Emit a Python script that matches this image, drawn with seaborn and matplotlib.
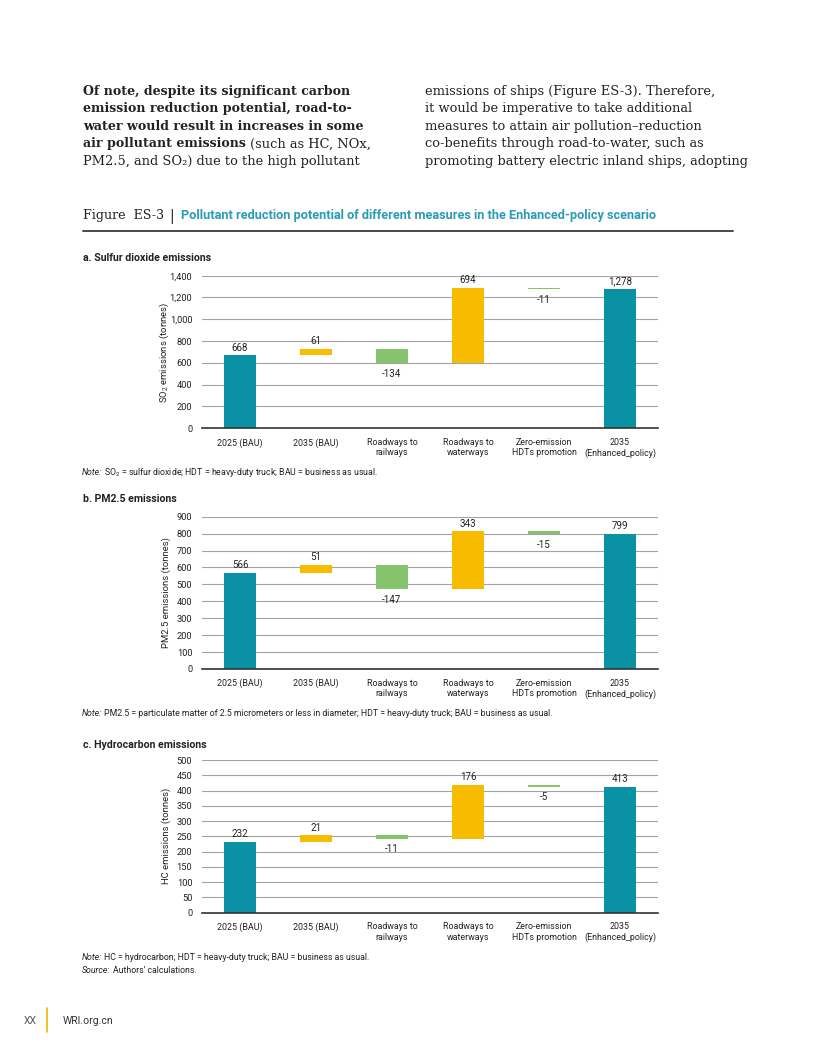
import pandas as pd
import matplotlib
matplotlib.use("Agg")
import matplotlib.pyplot as plt
import seaborn as sns
from matplotlib import font_manager

# Categories and values
categories = ["2025 (BAU)", "2035 (BAU)", "Roadways to\nrailways", "Roadways to\nwaterways",
              "Zero-emission\nHDTs promotion", "2035\n(Enhanced_policy)"]
kinds = ["total", "step", "step", "step", "step", "total"]

so2_values = [668, 61, -134, 694, -11, 1278]
pm25_values = [566, 51, -147, 343, -15, 799]
hc_values = [232, 21, -11, 176, -5, 413]

so2_ticks = [0, 200, 400, 600, 800, 1000, 1200, 1400]
pm25_ticks = [0, 100, 200, 300, 400, 500, 600, 700, 800, 900]
hc_ticks = [0, 50, 100, 150, 200, 250, 300, 350, 400, 450, 500]

TEAL = "#0a92a4"
GOLD = "#f7bc00"
GREEN = "#86c36d"
TITLE_TEAL = "#2a9cb5"
INK = "#222222"

sns.set_style("white")
available = {f.name for f in font_manager.fontManager.ttflist}
NARROW = "Liberation Sans Narrow" if "Liberation Sans Narrow" in available else "Roboto"
SERIF = ["DejaVu Serif"]
plt.rcParams["font.family"] = [NARROW, "DejaVu Sans"]
plt.rcParams["mathtext.fontset"] = "custom"
plt.rcParams["mathtext.rm"] = NARROW
plt.rcParams["mathtext.it"] = NARROW + ":italic"
plt.rcParams["mathtext.bf"] = NARROW + ":bold"

W, H = 816, 1056
fig = plt.figure(figsize=(W / 100, H / 100), dpi=100)
renderer = fig.canvas.get_renderer()


def fx(px):
    return px / W


def fy(py):
    return 1 - py / H


def put(x, y, s, width=None, **kw):
    t = fig.text(fx(x), fy(y), s, va="baseline", **kw)
    if width is not None:
        w = t.get_window_extent(renderer).width
        t.set_fontsize(t.get_fontsize() * width / w)
    return t


# paragraph text
left_lines = [("Of note, despite its significant carbon", ""),
              ("emission reduction potential, road-to-", ""),
              ("water would result in increases in some", ""),
              ("air pollutant emissions", " (such as HC, NOx,"),
              ("", "PM2.5, and SO\u2082) due to the high pollutant")]
right_lines = ["emissions of ships (Figure ES-3). Therefore,",
               "it would be imperative to take additional",
               "measures to attain air pollution\u2013reduction",
               "co-benefits through road-to-water, such as",
               "promoting battery electric inland ships, adopting"]

probe = put(83, 94.5, left_lines[0][0], width=270, family=SERIF, fontsize=10, weight="bold")
bold_size = probe.get_fontsize()
probe.remove()
probe = put(425, 94.5, right_lines[4], width=325, family=SERIF, fontsize=10)
reg_size = probe.get_fontsize()
probe.remove()

for i, (bold, normal) in enumerate(left_lines):
    y = 94.5 + i * 17.6
    x = 83
    if bold:
        t = put(x, y, bold, family=SERIF, fontsize=bold_size, weight="bold", color=INK)
        x = t.get_window_extent(renderer).x1
    if normal:
        put(x, y, normal, family=SERIF, fontsize=reg_size, color=INK)
for i, line in enumerate(right_lines):
    put(425, 94.5 + i * 17.6, line, family=SERIF, fontsize=reg_size, color=INK)

# figure caption
put(83, 219.5, "Figure  ES-3", family=SERIF, width=82, fontsize=9.5, color=INK)
put(169, 219.5, "|", family=SERIF, fontsize=10, color=INK)
put(181, 219.5, "Pollutant reduction potential of different measures in the Enhanced-policy scenario",
    width=477, fontsize=10, weight="bold", color=TITLE_TEAL)
fig.add_artist(plt.Line2D([fx(83), fx(733)], [fy(231), fy(231)], color="#3a3a3a", lw=1.3))


def waterfall(ax, values, yticks, ylabel):
    bottoms, heights, colors = [], [], []
    running = 0
    for v, k in zip(values, kinds):
        if k == "total":
            bottoms.append(0)
            heights.append(v)
            running = v
            colors.append(TEAL)
        else:
            bottoms.append(min(running, running + v))
            heights.append(abs(v))
            running += v
            colors.append(GOLD if v > 0 else GREEN)
    df = pd.DataFrame({"measure": categories, "height": heights})
    sns.barplot(data=df, x="measure", y="height", bottom=bottoms, width=0.41, color=TEAL,
                saturation=1, errorbar=None, linewidth=0, ax=ax, zorder=3)
    for patch, c in zip(ax.patches, colors):
        patch.set_facecolor(c)
    for i, (v, k) in enumerate(zip(values, kinds)):
        if k == "total" or v > 0:
            ax.annotate(f"{v:,}", (i, bottoms[i] + heights[i]), xytext=(0, 2),
                        textcoords="offset points", ha="center", va="bottom", fontsize=7, color=INK)
        else:
            ax.annotate(f"{v:,}", (i, bottoms[i]), xytext=(0, -4),
                        textcoords="offset points", ha="center", va="top", fontsize=7, color=INK)
    ax.set_xlim(-0.5, 5.5)
    ax.set_ylim(yticks[0], yticks[-1])
    ax.set_yticks(yticks)
    ax.set_yticklabels([f"{t:,}" for t in yticks])
    ax.set_xlabel("")
    ax.set_ylabel(ylabel, fontsize=6.8, color=INK)
    ax.yaxis.set_label_coords(-0.068, 0.5)
    ax.yaxis.grid(True, color="#a3a3a3", lw=0.8)
    ax.set_axisbelow(True)
    for side in ["left", "top", "right"]:
        ax.spines[side].set_visible(False)
    ax.spines["bottom"].set_color("#333333")
    ax.spines["bottom"].set_linewidth(1.2)
    ax.spines["bottom"].set_zorder(4)
    ax.tick_params(axis="both", length=0, labelsize=6.7, labelcolor=INK)
    ax.tick_params(axis="x", pad=7)
    ax.tick_params(axis="y", pad=7)
    for lab in ax.get_xticklabels():
        lab.set_linespacing(1.2)
        lab.set_fontsize(6.4)


def note(x, y, head, body):
    t = put(x, y, head, fontsize=6.3, style="italic", color=INK)
    put(t.get_window_extent(renderer).x1 + 2, y, body, fontsize=6.3, color=INK)


panels = [
    ("a. Sulfur dioxide emissions", 261, so2_values, so2_ticks, "SO$_2$ emissions (tonnes)", 275.7, 428.3,
     "SO$_2$ = sulfur dioxide; HDT = heavy-duty truck; BAU = business as usual.", 475),
    ("b. PM2.5 emissions", 502, pm25_values, pm25_ticks, "PM2.5 emissions (tonnes)", 516.7, 669,
     "PM2.5 = particulate matter of 2.5 micrometers or less in diameter; HDT = heavy-duty truck; "
     "BAU = business as usual.", 716),
    ("c. Hydrocarbon emissions", 747.5, hc_values, hc_ticks, "HC emissions (tonnes)", 760, 912.7,
     "HC = hydrocarbon; HDT = heavy-duty truck; BAU = business as usual.", 960.5),
]
for title, ty, values, ticks, ylabel, top, bot, note_text, ny in panels:
    put(83, ty, title, fontsize=7.6, weight="bold", color=INK)
    ax = fig.add_axes([fx(202), fy(bot), (658 - 202) / W, (bot - top) / H])
    waterfall(ax, values, ticks, ylabel)
    note(82, ny, "Note:", note_text)

note(82, 973, "Source:", "Authors\u2019 calculations.")

# footer
put(24, 1024, "XX", fontsize=7.5, color="#555555")
fig.add_artist(plt.Line2D([fx(47), fx(47)], [fy(1008), fy(1032)], color="#f2b800", lw=1.2))
put(63, 1024, "WRI.org.cn", fontsize=7.5, color="#333333")

fig.savefig("out.png", dpi=100)
